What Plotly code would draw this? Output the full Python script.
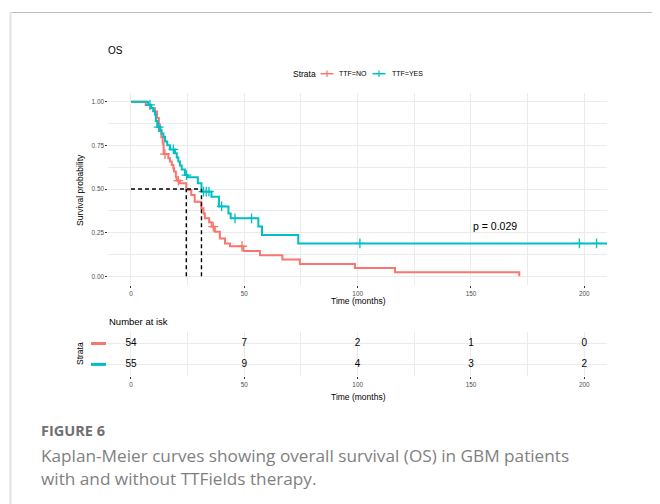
import plotly.graph_objects as go

# page has an 8px body margin, so the figure is drawn 8px smaller and coordinates offset
OFF = 8
W, H = 660 - OFF, 504 - OFF

# ---------------- data ----------------
red_t = [0, 6.5, 8.5, 10.6, 11.5, 12.3, 12.8, 13.4, 14.0, 14.4, 16.5, 17.2, 18.0, 18.7,
         19.0, 19.8, 20.2, 21.6, 24.4, 26.6, 28.1, 31.0, 32.0, 32.6, 34.5, 35.6, 37.0,
         39.2, 41.5, 43.7, 49.6, 56.9, 66.8, 74.5, 98.8, 116.5, 171.3]
red_s = [1.0, 0.981, 0.963, 0.944, 0.907, 0.870, 0.833, 0.796, 0.759, 0.700, 0.676, 0.657,
         0.638, 0.619, 0.600, 0.567, 0.548, 0.533, 0.494, 0.466, 0.427, 0.389, 0.360, 0.332,
         0.310, 0.284, 0.255, 0.216, 0.188, 0.172, 0.145, 0.120, 0.096, 0.071, 0.047, 0.023, 0.0]
red_cens = [15.0, 20.9, 36.3, 49.0]

blue_t = [0, 7.6, 9.0, 9.8, 10.6, 11.0, 11.6, 13.0, 13.5, 14.3, 15.0, 16.0, 17.2, 19.4,
          20.2, 20.9, 21.6, 22.4, 23.8, 25.0, 29.5, 31.1, 35.5, 38.8, 43.0, 44.0, 56.2,
          57.8, 73.8, 212.0]
blue_s = [1.0, 0.982, 0.964, 0.945, 0.927, 0.890, 0.855, 0.836, 0.818, 0.800, 0.772, 0.750,
          0.727, 0.705, 0.680, 0.657, 0.635, 0.612, 0.580, 0.567, 0.533, 0.485, 0.456, 0.400,
          0.360, 0.332, 0.285, 0.236, 0.188, 0.188]
blue_cens = [8.4, 12.2, 18.7, 24.5, 32.0, 33.2, 34.4, 40.0, 45.9, 53.2, 101.0, 197.8, 205.4]

median_red = 24.4
median_blue = 31.1

risk_times = [0, 50, 100, 150, 200]
risk_red = [54, 7, 2, 1, 0]
risk_blue = [55, 9, 4, 3, 2]

x_ticks = [0, 50, 100, 150, 200]
y_ticks = [0, 0.25, 0.5, 0.75, 1.0]
y_ticktext = ["0.00", "0.25", "0.50", "0.75", "1.00"]

RED = "#F8766D"
BLUE = "#00BFC4"
GRID = "#ebebeb"
FONT = "Liberation Sans, Arial, sans-serif"


def step_at(ts, ss, c):
    v = ss[0]
    for t, s in zip(ts, ss):
        if t <= c:
            v = s
    return v


def px(x):
    return (x - OFF) / W


def py(y):
    return 1 - (y - OFF) / H


fig = go.Figure()

# curves
fig.add_trace(go.Scatter(x=red_t, y=red_s, mode="lines", line=dict(color=RED, width=2, shape="hv"),
                         xaxis="x", yaxis="y", showlegend=False, hoverinfo="skip"))
fig.add_trace(go.Scatter(x=blue_t, y=blue_s, mode="lines", line=dict(color=BLUE, width=2, shape="hv"),
                         xaxis="x", yaxis="y", showlegend=False, hoverinfo="skip"))
# censor marks
fig.add_trace(go.Scatter(x=red_cens, y=[step_at(red_t, red_s, c) for c in red_cens], mode="markers",
                         marker=dict(symbol="cross-thin", size=7, line=dict(color=RED, width=1.3)),
                         xaxis="x", yaxis="y", showlegend=False, hoverinfo="skip"))
fig.add_trace(go.Scatter(x=blue_cens, y=[step_at(blue_t, blue_s, c) for c in blue_cens], mode="markers",
                         marker=dict(symbol="cross-thin", size=7, line=dict(color=BLUE, width=1.3)),
                         xaxis="x", yaxis="y", showlegend=False, hoverinfo="skip"))

# risk table numbers
fig.add_trace(go.Scatter(x=risk_times, y=[2] * len(risk_times), mode="text",
                         text=[str(v) for v in risk_red], textfont=dict(size=10, color="#000", family=FONT),
                         xaxis="x2", yaxis="y2", showlegend=False, hoverinfo="skip"))
fig.add_trace(go.Scatter(x=risk_times, y=[1] * len(risk_times), mode="text",
                         text=[str(v) for v in risk_blue], textfont=dict(size=10, color="#000", family=FONT),
                         xaxis="x2", yaxis="y2", showlegend=False, hoverinfo="skip"))

shapes = []
# median lines
DASH = dict(color="black", width=1.4, dash="4px,3px")
shapes.append(dict(type="line", xref="x", yref="y", x0=0, x1=median_blue, y0=0.5, y1=0.5, line=DASH))
for m in (median_red, median_blue):
    shapes.append(dict(type="line", xref="x", yref="y", x0=m, x1=m, y0=0, y1=0.5, line=DASH))

# frame
shapes.append(dict(type="line", xref="paper", yref="paper", x0=px(10), x1=1, y0=py(12.5), y1=py(12.5),
                   line=dict(color="#bdbdbd", width=1.2)))
shapes.append(dict(type="line", xref="paper", yref="paper", x0=px(10.5), x1=px(10.5), y0=py(12), y1=0,
                   line=dict(color="#e2e2e2", width=2)))

# legend marks
for cx, col in ((327, RED), (379, BLUE)):
    shapes.append(dict(type="line", xref="paper", yref="paper", x0=px(cx - 6.5), x1=px(cx + 6.5),
                       y0=py(73.7), y1=py(73.7), line=dict(color=col, width=1.5)))
    shapes.append(dict(type="line", xref="paper", yref="paper", x0=px(cx), x1=px(cx),
                       y0=py(70.5), y1=py(77), line=dict(color=col, width=1.2)))

# risk table strata bars
for yy, col in ((343.5, RED), (364.4, BLUE)):
    shapes.append(dict(type="line", xref="paper", yref="paper", x0=px(91), x1=px(106),
                       y0=py(yy), y1=py(yy), line=dict(color=col, width=3)))

annotations = []


def txt(x, y, s, size, color="#000", xanchor="left", angle=0, family=FONT):
    annotations.append(dict(x=px(x), y=py(y), xref="paper", yref="paper", text=s, showarrow=False,
                            xanchor=xanchor, yanchor="middle", textangle=angle,
                            font=dict(size=size, color=color, family=family)))


txt(106.5, 51, "OS", 10)
txt(290.5, 73.7, "Strata", 8.5)
txt(337, 73.7, "TTF=NO", 7)
txt(389.5, 73.7, "TTF=YES", 7)
txt(80, 190, "Survival probability", 8.5, xanchor="center", angle=-90)
txt(358, 301, "Time (months)", 8.5, xanchor="center")
txt(107, 321, "Number at isk", 9.5)
txt(80, 354, "Strata", 8.5, xanchor="center", angle=-90)
txt(358, 397, "Time (months)", 8.5, xanchor="center")

annotations.append(dict(x=160.6, y=0.287, xref="x", yref="y", text="p = 0.029", showarrow=False,
                        xanchor="center", yanchor="middle", font=dict(size=10.5, color="#000", family=FONT)))

CAP = "Open Sans, Noto Sans, sans-serif"
txt(39, 430, "<b>FIGURE 6</b>", 14.5, color="#707070", family=CAP)
txt(39, 455, "Kaplan-Meier curves showing overall survival (OS) in GBM patients", 17.2, color="#7f7f7f", family=CAP)
txt(39, 478, "with and without TTFields therapy.", 17.2, color="#7f7f7f", family=CAP)

xdom = [px(108.3), px(607)]
axis_common = dict(range=[-10, 210], tickvals=x_ticks, ticktext=[str(v) for v in x_ticks],
                   ticks="outside", ticklen=2, tickwidth=0.8, tickcolor="#333",
                   tickfont=dict(size=6.4, color="#4d4d4d", family=FONT),
                   zeroline=False, showline=False, fixedrange=True)

fig.update_layout(
    width=W, height=H, margin=dict(l=0, r=0, t=0, b=0),
    paper_bgcolor="white", plot_bgcolor="white",
    font=dict(family=FONT),
    xaxis=dict(domain=xdom, showgrid=True, gridcolor=GRID, gridwidth=1,
               minor=dict(dtick=25, tick0=0, showgrid=True, gridcolor=GRID, gridwidth=0.7),
               anchor="y", **axis_common),
    yaxis=dict(domain=[py(285), py(93)], range=[-0.05, 1.05], tickvals=y_ticks, ticktext=y_ticktext,
               ticks="outside", ticklen=2, tickwidth=0.8, tickcolor="#333",
               tickfont=dict(size=6.4, color="#4d4d4d", family=FONT),
               showgrid=True, gridcolor=GRID, gridwidth=1,
               minor=dict(dtick=0.125, tick0=0, showgrid=True, gridcolor=GRID, gridwidth=0.7),
               zeroline=False, showline=False, anchor="x", fixedrange=True),
    xaxis2=dict(domain=xdom, showgrid=False,
                minor=dict(dtick=25, tick0=0, showgrid=True, gridcolor=GRID, gridwidth=0.9),
                anchor="y2", **axis_common),
    yaxis2=dict(domain=[py(376), py(332)], range=[0.45, 2.55], tickvals=[1, 2], showticklabels=False,
                ticks="", showgrid=True, gridcolor=GRID, gridwidth=1, zeroline=False, showline=False,
                anchor="x2", fixedrange=True),
    shapes=shapes, annotations=annotations,
)

fig.write_html("out.html")
